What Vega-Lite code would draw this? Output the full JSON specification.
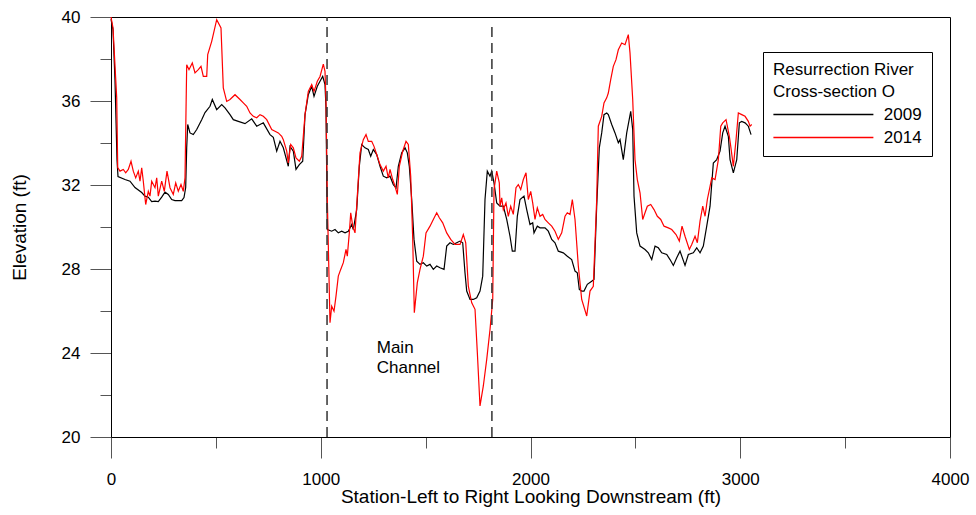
{
  "$schema": "https://vega.github.io/schema/vega-lite/v6.json",
  "width": 839,
  "height": 420,
  "autosize": {"type": "none"},
  "padding": {"left": 111, "top": 17, "right": 26, "bottom": 78},
  "background": "white",
  "config": {
    "font": "Liberation Sans",
    "view": {"stroke": "black", "strokeWidth": 1},
    "axis": {"grid": false, "domainColor": "black", "domainWidth": 1, "tickColor": "#555", "tickWidth": 1, "labelFontSize": 17, "labelColor": "black", "titleFontSize": 19, "titleFontWeight": "normal", "titleColor": "black", "labelOverlap": false, "labelFlush": false}
  },
  "layer": [
    {
      "data": {"values": [
        {"station":0,"elev":39.9,"year":"2009"},{"station":9.5,"elev":39.4,"year":"2009"},{"station":19,"elev":37.0,"year":"2009"},{"station":28.6,"elev":33.2,"year":"2009"},{"station":33.4,"elev":32.4,"year":"2009"},{"station":66.7,"elev":32.26,"year":"2009"},{"station":90.6,"elev":32.18,"year":"2009"},{"station":114.4,"elev":31.88,"year":"2009"},{"station":146.4,"elev":31.64,"year":"2009"},{"station":162.1,"elev":31.47,"year":"2009"},{"station":177.8,"elev":31.42,"year":"2009"},{"station":194,"elev":31.21,"year":"2009"},{"station":209.8,"elev":31.23,"year":"2009"},{"station":225.5,"elev":31.21,"year":"2009"},{"station":241.7,"elev":31.42,"year":"2009"},{"station":257.5,"elev":31.66,"year":"2009"},{"station":273.2,"elev":31.55,"year":"2009"},{"station":289.4,"elev":31.31,"year":"2009"},{"station":305.1,"elev":31.26,"year":"2009"},{"station":320.9,"elev":31.26,"year":"2009"},{"station":337.1,"elev":31.26,"year":"2009"},{"station":348,"elev":31.4,"year":"2009"},{"station":356.1,"elev":31.88,"year":"2009"},{"station":360.9,"elev":33.78,"year":"2009"},{"station":365.7,"elev":34.88,"year":"2009"},{"station":376.6,"elev":34.48,"year":"2009"},{"station":392.4,"elev":34.4,"year":"2009"},{"station":408.6,"elev":34.64,"year":"2009"},{"station":432.4,"elev":35.11,"year":"2009"},{"station":448.2,"elev":35.45,"year":"2009"},{"station":472,"elev":35.75,"year":"2009"},{"station":483,"elev":36.07,"year":"2009"},{"station":503.9,"elev":35.59,"year":"2009"},{"station":527.8,"elev":35.83,"year":"2009"},{"station":543.5,"elev":35.67,"year":"2009"},{"station":567.4,"elev":35.35,"year":"2009"},{"station":583.1,"elev":35.11,"year":"2009"},{"station":606.9,"elev":35.03,"year":"2009"},{"station":638.9,"elev":34.92,"year":"2009"},{"station":670.8,"elev":35.15,"year":"2009"},{"station":694.7,"elev":34.8,"year":"2009"},{"station":726.1,"elev":34.96,"year":"2009"},{"station":758.1,"elev":34.4,"year":"2009"},{"station":773.8,"elev":34.27,"year":"2009"},{"station":790,"elev":33.61,"year":"2009"},{"station":805.7,"elev":34.08,"year":"2009"},{"station":821.5,"elev":33.77,"year":"2009"},{"station":845.3,"elev":32.89,"year":"2009"},{"station":853.4,"elev":33.84,"year":"2009"},{"station":869.2,"elev":33.61,"year":"2009"},{"station":882,"elev":32.74,"year":"2009"},{"station":897.8,"elev":32.97,"year":"2009"},{"station":914,"elev":33.13,"year":"2009"},{"station":925,"elev":35.35,"year":"2009"},{"station":940.7,"elev":36.3,"year":"2009"},{"station":956.9,"elev":36.7,"year":"2009"},{"station":967.9,"elev":36.22,"year":"2009"},{"station":983.6,"elev":36.7,"year":"2009"},{"station":996.5,"elev":36.94,"year":"2009"},{"station":1009.3,"elev":37.17,"year":"2009"},{"station":1020.3,"elev":36.78,"year":"2009"},{"station":1025,"elev":35.67,"year":"2009"},{"station":1031.2,"elev":29.88,"year":"2009"},{"station":1052.2,"elev":29.8,"year":"2009"},{"station":1068,"elev":29.88,"year":"2009"},{"station":1083.7,"elev":29.72,"year":"2009"},{"station":1099.9,"elev":29.8,"year":"2009"},{"station":1115.7,"elev":29.72,"year":"2009"},{"station":1131.4,"elev":29.8,"year":"2009"},{"station":1147.6,"elev":30.12,"year":"2009"},{"station":1155.2,"elev":29.88,"year":"2009"},{"station":1171.4,"elev":30.83,"year":"2009"},{"station":1183.8,"elev":32.89,"year":"2009"},{"station":1195.3,"elev":33.93,"year":"2009"},{"station":1211,"elev":33.77,"year":"2009"},{"station":1226.7,"elev":33.69,"year":"2009"},{"station":1238.2,"elev":33.37,"year":"2009"},{"station":1250.6,"elev":33.69,"year":"2009"},{"station":1266.8,"elev":33.45,"year":"2009"},{"station":1282.6,"elev":32.89,"year":"2009"},{"station":1298.3,"elev":32.42,"year":"2009"},{"station":1314.5,"elev":32.34,"year":"2009"},{"station":1330.3,"elev":32.42,"year":"2009"},{"station":1346,"elev":32.02,"year":"2009"},{"station":1358.9,"elev":31.87,"year":"2009"},{"station":1369.8,"elev":32.89,"year":"2009"},{"station":1386,"elev":33.53,"year":"2009"},{"station":1401.8,"elev":33.77,"year":"2009"},{"station":1412.7,"elev":33.53,"year":"2009"},{"station":1422.2,"elev":32.89,"year":"2009"},{"station":1433.7,"elev":31.31,"year":"2009"},{"station":1444.6,"elev":29.41,"year":"2009"},{"station":1457.5,"elev":28.37,"year":"2009"},{"station":1473.2,"elev":28.22,"year":"2009"},{"station":1489,"elev":28.3,"year":"2009"},{"station":1505.2,"elev":28.14,"year":"2009"},{"station":1520.9,"elev":28.22,"year":"2009"},{"station":1536.7,"elev":27.98,"year":"2009"},{"station":1552.9,"elev":28.14,"year":"2009"},{"station":1568.6,"elev":28.06,"year":"2009"},{"station":1587.7,"elev":27.98,"year":"2009"},{"station":1600.5,"elev":29.09,"year":"2009"},{"station":1616.3,"elev":29.25,"year":"2009"},{"station":1632,"elev":29.17,"year":"2009"},{"station":1648.2,"elev":29.25,"year":"2009"},{"station":1664,"elev":29.33,"year":"2009"},{"station":1676.8,"elev":29.25,"year":"2009"},{"station":1687.7,"elev":27.82,"year":"2009"},{"station":1695.9,"elev":26.95,"year":"2009"},{"station":1711.6,"elev":26.55,"year":"2009"},{"station":1727.4,"elev":26.55,"year":"2009"},{"station":1743.6,"elev":26.63,"year":"2009"},{"station":1759.3,"elev":26.95,"year":"2009"},{"station":1772.2,"elev":27.66,"year":"2009"},{"station":1783.1,"elev":31.31,"year":"2009"},{"station":1794.1,"elev":32.66,"year":"2009"},{"station":1807,"elev":32.42,"year":"2009"},{"station":1815.1,"elev":32.66,"year":"2009"},{"station":1826,"elev":32.1,"year":"2009"},{"station":1838.9,"elev":31.15,"year":"2009"},{"station":1854.6,"elev":30.99,"year":"2009"},{"station":1870.4,"elev":30.99,"year":"2009"},{"station":1886.6,"elev":30.36,"year":"2009"},{"station":1902.3,"elev":29.56,"year":"2009"},{"station":1913.3,"elev":28.85,"year":"2009"},{"station":1926.2,"elev":28.85,"year":"2009"},{"station":1937.1,"elev":30.51,"year":"2009"},{"station":1950,"elev":31.31,"year":"2009"},{"station":1969,"elev":31.47,"year":"2009"},{"station":1981.9,"elev":30.83,"year":"2009"},{"station":1997.6,"elev":30.12,"year":"2009"},{"station":2010.5,"elev":30.2,"year":"2009"},{"station":2016.7,"elev":29.72,"year":"2009"},{"station":2032.5,"elev":30.04,"year":"2009"},{"station":2045.3,"elev":29.96,"year":"2009"},{"station":2069.2,"elev":29.96,"year":"2009"},{"station":2084.9,"elev":29.8,"year":"2009"},{"station":2101.1,"elev":29.41,"year":"2009"},{"station":2116.8,"elev":29.25,"year":"2009"},{"station":2132.6,"elev":28.85,"year":"2009"},{"station":2156.4,"elev":28.77,"year":"2009"},{"station":2175.5,"elev":28.61,"year":"2009"},{"station":2196.4,"elev":28.45,"year":"2009"},{"station":2212.2,"elev":27.9,"year":"2009"},{"station":2223.1,"elev":27.82,"year":"2009"},{"station":2232.7,"elev":27.03,"year":"2009"},{"station":2244.1,"elev":26.95,"year":"2009"},{"station":2255.1,"elev":26.95,"year":"2009"},{"station":2270.9,"elev":27.27,"year":"2009"},{"station":2291.8,"elev":27.42,"year":"2009"},{"station":2302.7,"elev":27.5,"year":"2009"},{"station":2315.6,"elev":30.99,"year":"2009"},{"station":2328,"elev":33.77,"year":"2009"},{"station":2339.5,"elev":34.48,"year":"2009"},{"station":2350.4,"elev":35.35,"year":"2009"},{"station":2363.3,"elev":35.43,"year":"2009"},{"station":2371,"elev":35.35,"year":"2009"},{"station":2387.2,"elev":34.88,"year":"2009"},{"station":2402.9,"elev":34.48,"year":"2009"},{"station":2418.7,"elev":34.01,"year":"2009"},{"station":2426.8,"elev":34.16,"year":"2009"},{"station":2442.5,"elev":33.21,"year":"2009"},{"station":2458.7,"elev":34.48,"year":"2009"},{"station":2477.8,"elev":35.51,"year":"2009"},{"station":2487.3,"elev":34.64,"year":"2009"},{"station":2493.5,"elev":31.47,"year":"2009"},{"station":2506.4,"elev":29.72,"year":"2009"},{"station":2522.2,"elev":29.09,"year":"2009"},{"station":2546,"elev":28.93,"year":"2009"},{"station":2561.7,"elev":28.77,"year":"2009"},{"station":2578,"elev":28.45,"year":"2009"},{"station":2593.7,"elev":29.09,"year":"2009"},{"station":2609.4,"elev":29.01,"year":"2009"},{"station":2625.6,"elev":28.77,"year":"2009"},{"station":2649.5,"elev":28.69,"year":"2009"},{"station":2665.2,"elev":28.45,"year":"2009"},{"station":2681,"elev":28.17,"year":"2009"},{"station":2697.2,"elev":28.54,"year":"2009"},{"station":2712.9,"elev":28.85,"year":"2009"},{"station":2736.7,"elev":28.17,"year":"2009"},{"station":2752.5,"elev":28.69,"year":"2009"},{"station":2776.3,"elev":28.77,"year":"2009"},{"station":2792.5,"elev":29.01,"year":"2009"},{"station":2808.3,"elev":28.77,"year":"2009"},{"station":2824,"elev":29.09,"year":"2009"},{"station":2840.2,"elev":30.04,"year":"2009"},{"station":2856,"elev":30.99,"year":"2009"},{"station":2871.7,"elev":33.05,"year":"2009"},{"station":2887.9,"elev":33.21,"year":"2009"},{"station":2903.6,"elev":33.61,"year":"2009"},{"station":2916.5,"elev":34.48,"year":"2009"},{"station":2927.5,"elev":34.8,"year":"2009"},{"station":2943.2,"elev":34.32,"year":"2009"},{"station":2951.3,"elev":33.21,"year":"2009"},{"station":2967.1,"elev":32.58,"year":"2009"},{"station":2983.3,"elev":33.21,"year":"2009"},{"station":2995.7,"elev":34.96,"year":"2009"},{"station":3007.1,"elev":35.03,"year":"2009"},{"station":3022.9,"elev":34.96,"year":"2009"},{"station":3038.6,"elev":34.8,"year":"2009"},{"station":3051.5,"elev":34.4,"year":"2009"},
        {"station":0,"elev":40,"year":"2014"},{"station":9.5,"elev":39.48,"year":"2014"},{"station":27.2,"elev":36.16,"year":"2014"},{"station":32,"elev":32.83,"year":"2014"},{"station":42.9,"elev":32.66,"year":"2014"},{"station":58.6,"elev":32.74,"year":"2014"},{"station":70.1,"elev":32.58,"year":"2014"},{"station":82.5,"elev":32.74,"year":"2014"},{"station":95.4,"elev":33.13,"year":"2014"},{"station":106.3,"elev":32.66,"year":"2014"},{"station":117.8,"elev":32.34,"year":"2014"},{"station":130.2,"elev":32.66,"year":"2014"},{"station":138.3,"elev":32.18,"year":"2014"},{"station":146.4,"elev":32.82,"year":"2014"},{"station":154,"elev":32.18,"year":"2014"},{"station":165.4,"elev":31.07,"year":"2014"},{"station":177.8,"elev":31.7,"year":"2014"},{"station":185.9,"elev":31.47,"year":"2014"},{"station":194,"elev":32.18,"year":"2014"},{"station":209.8,"elev":31.87,"year":"2014"},{"station":217.9,"elev":32.34,"year":"2014"},{"station":225.5,"elev":31.47,"year":"2014"},{"station":241.7,"elev":32.18,"year":"2014"},{"station":254.1,"elev":31.7,"year":"2014"},{"station":267,"elev":32.66,"year":"2014"},{"station":281.3,"elev":31.87,"year":"2014"},{"station":297,"elev":31.55,"year":"2014"},{"station":308.5,"elev":32.1,"year":"2014"},{"station":320.9,"elev":31.7,"year":"2014"},{"station":333.7,"elev":32.02,"year":"2014"},{"station":344.7,"elev":31.7,"year":"2014"},{"station":352.8,"elev":32.34,"year":"2014"},{"station":360.9,"elev":37.73,"year":"2014"},{"station":371.9,"elev":37.49,"year":"2014"},{"station":387.6,"elev":37.81,"year":"2014"},{"station":400.5,"elev":37.34,"year":"2014"},{"station":416.2,"elev":37.49,"year":"2014"},{"station":429.1,"elev":37.65,"year":"2014"},{"station":440.1,"elev":37.17,"year":"2014"},{"station":456.3,"elev":37.17,"year":"2014"},{"station":461.1,"elev":38.21,"year":"2014"},{"station":480.1,"elev":38.84,"year":"2014"},{"station":503.9,"elev":39.87,"year":"2014"},{"station":524.4,"elev":39.48,"year":"2014"},{"station":535.4,"elev":36.62,"year":"2014"},{"station":551.6,"elev":35.98,"year":"2014"},{"station":567.4,"elev":36.07,"year":"2014"},{"station":591.2,"elev":36.3,"year":"2014"},{"station":615,"elev":36.07,"year":"2014"},{"station":630.8,"elev":35.91,"year":"2014"},{"station":647,"elev":35.75,"year":"2014"},{"station":662.7,"elev":35.43,"year":"2014"},{"station":678.5,"elev":35.27,"year":"2014"},{"station":694.7,"elev":35.2,"year":"2014"},{"station":710.4,"elev":35.35,"year":"2014"},{"station":726.1,"elev":35.27,"year":"2014"},{"station":742.4,"elev":35.11,"year":"2014"},{"station":766.2,"elev":34.64,"year":"2014"},{"station":781.9,"elev":34.56,"year":"2014"},{"station":797.7,"elev":34.48,"year":"2014"},{"station":813.9,"elev":34.32,"year":"2014"},{"station":821.5,"elev":34.16,"year":"2014"},{"station":837.7,"elev":33.61,"year":"2014"},{"station":845.3,"elev":33.05,"year":"2014"},{"station":856.8,"elev":33.93,"year":"2014"},{"station":869.2,"elev":33.77,"year":"2014"},{"station":882,"elev":33.29,"year":"2014"},{"station":897.8,"elev":33.13,"year":"2014"},{"station":909.2,"elev":33.37,"year":"2014"},{"station":925,"elev":35.35,"year":"2014"},{"station":940.7,"elev":36.46,"year":"2014"},{"station":956.9,"elev":36.78,"year":"2014"},{"station":967.9,"elev":36.46,"year":"2014"},{"station":983.6,"elev":36.94,"year":"2014"},{"station":996.5,"elev":37.17,"year":"2014"},{"station":1012.2,"elev":37.76,"year":"2014"},{"station":1020.3,"elev":37.41,"year":"2014"},{"station":1025,"elev":35.99,"year":"2014"},{"station":1031.2,"elev":31.39,"year":"2014"},{"station":1044.1,"elev":25.44,"year":"2014"},{"station":1052.2,"elev":26.23,"year":"2014"},{"station":1063.2,"elev":25.99,"year":"2014"},{"station":1072.7,"elev":26.71,"year":"2014"},{"station":1083.7,"elev":27.66,"year":"2014"},{"station":1095.2,"elev":27.98,"year":"2014"},{"station":1107.6,"elev":28.3,"year":"2014"},{"station":1120.4,"elev":28.93,"year":"2014"},{"station":1126.6,"elev":28.61,"year":"2014"},{"station":1136.2,"elev":29.72,"year":"2014"},{"station":1142.9,"elev":30.68,"year":"2014"},{"station":1152.4,"elev":30.04,"year":"2014"},{"station":1163.3,"elev":29.72,"year":"2014"},{"station":1174.3,"elev":31.47,"year":"2014"},{"station":1187.1,"elev":33.53,"year":"2014"},{"station":1202.9,"elev":34.16,"year":"2014"},{"station":1215.8,"elev":34.4,"year":"2014"},{"station":1226.7,"elev":34.08,"year":"2014"},{"station":1242.9,"elev":34.08,"year":"2014"},{"station":1253.9,"elev":33.84,"year":"2014"},{"station":1266.8,"elev":33.45,"year":"2014"},{"station":1282.6,"elev":32.97,"year":"2014"},{"station":1298.3,"elev":32.66,"year":"2014"},{"station":1311.2,"elev":32.89,"year":"2014"},{"station":1322.1,"elev":32.34,"year":"2014"},{"station":1330.3,"elev":32.74,"year":"2014"},{"station":1343.1,"elev":32.26,"year":"2014"},{"station":1354.1,"elev":31.94,"year":"2014"},{"station":1365.1,"elev":31.55,"year":"2014"},{"station":1374.6,"elev":32.89,"year":"2014"},{"station":1390.8,"elev":33.61,"year":"2014"},{"station":1406.5,"elev":34.08,"year":"2014"},{"station":1417.5,"elev":33.93,"year":"2014"},{"station":1428.9,"elev":32.42,"year":"2014"},{"station":1438.5,"elev":29.41,"year":"2014"},{"station":1446.1,"elev":25.92,"year":"2014"},{"station":1460.4,"elev":27.35,"year":"2014"},{"station":1473.2,"elev":27.98,"year":"2014"},{"station":1489,"elev":28.61,"year":"2014"},{"station":1501.8,"elev":29.72,"year":"2014"},{"station":1520.9,"elev":30.04,"year":"2014"},{"station":1536.7,"elev":30.36,"year":"2014"},{"station":1552.9,"elev":30.68,"year":"2014"},{"station":1565.3,"elev":30.44,"year":"2014"},{"station":1581.5,"elev":30.2,"year":"2014"},{"station":1600.5,"elev":29.72,"year":"2014"},{"station":1619.6,"elev":29.41,"year":"2014"},{"station":1640.1,"elev":29.17,"year":"2014"},{"station":1664,"elev":29.17,"year":"2014"},{"station":1679.7,"elev":29.64,"year":"2014"},{"station":1691.2,"elev":29.25,"year":"2014"},{"station":1703.6,"elev":27.18,"year":"2014"},{"station":1719.8,"elev":26.39,"year":"2014"},{"station":1735.5,"elev":26.08,"year":"2014"},{"station":1746.5,"elev":24.02,"year":"2014"},{"station":1759.3,"elev":21.48,"year":"2014"},{"station":1775.1,"elev":22.43,"year":"2014"},{"station":1791.3,"elev":23.7,"year":"2014"},{"station":1807,"elev":25.12,"year":"2014"},{"station":1819.9,"elev":26.55,"year":"2014"},{"station":1826,"elev":31.78,"year":"2014"},{"station":1838.9,"elev":32.66,"year":"2014"},{"station":1851.3,"elev":32.1,"year":"2014"},{"station":1854.6,"elev":30.99,"year":"2014"},{"station":1862.7,"elev":31.39,"year":"2014"},{"station":1870.4,"elev":30.83,"year":"2014"},{"station":1883.2,"elev":31.15,"year":"2014"},{"station":1894.2,"elev":30.51,"year":"2014"},{"station":1905.6,"elev":30.99,"year":"2014"},{"station":1918.1,"elev":30.6,"year":"2014"},{"station":1930.9,"elev":31.87,"year":"2014"},{"station":1941.9,"elev":32.02,"year":"2014"},{"station":1953.4,"elev":31.78,"year":"2014"},{"station":1965.8,"elev":32.26,"year":"2014"},{"station":1978.6,"elev":32.58,"year":"2014"},{"station":1989.6,"elev":31.31,"year":"2014"},{"station":2001,"elev":31.7,"year":"2014"},{"station":2010.5,"elev":31.15,"year":"2014"},{"station":2021.5,"elev":30.36,"year":"2014"},{"station":2032.5,"elev":30.91,"year":"2014"},{"station":2045.3,"elev":30.51,"year":"2014"},{"station":2058.2,"elev":30.6,"year":"2014"},{"station":2069.2,"elev":30.36,"year":"2014"},{"station":2084.9,"elev":30.2,"year":"2014"},{"station":2101.1,"elev":30.04,"year":"2014"},{"station":2116.8,"elev":29.8,"year":"2014"},{"station":2132.6,"elev":29.41,"year":"2014"},{"station":2148.8,"elev":29.72,"year":"2014"},{"station":2164.5,"elev":30.51,"year":"2014"},{"station":2175.5,"elev":30.68,"year":"2014"},{"station":2188.4,"elev":30.6,"year":"2014"},{"station":2199.4,"elev":31.31,"year":"2014"},{"station":2212.2,"elev":30.36,"year":"2014"},{"station":2228,"elev":28.14,"year":"2014"},{"station":2244.1,"elev":26.55,"year":"2014"},{"station":2268,"elev":25.76,"year":"2014"},{"station":2283.7,"elev":26.95,"year":"2014"},{"station":2299.5,"elev":27.18,"year":"2014"},{"station":2315.6,"elev":31.31,"year":"2014"},{"station":2323.3,"elev":34.8,"year":"2014"},{"station":2339.5,"elev":35.27,"year":"2014"},{"station":2350.4,"elev":35.91,"year":"2014"},{"station":2363.3,"elev":36.15,"year":"2014"},{"station":2371,"elev":36.38,"year":"2014"},{"station":2382.4,"elev":37.02,"year":"2014"},{"station":2394.8,"elev":37.65,"year":"2014"},{"station":2407.6,"elev":37.97,"year":"2014"},{"station":2418.7,"elev":38.44,"year":"2014"},{"station":2434.8,"elev":38.76,"year":"2014"},{"station":2450.6,"elev":38.68,"year":"2014"},{"station":2466.4,"elev":39.16,"year":"2014"},{"station":2474.4,"elev":38.29,"year":"2014"},{"station":2487.3,"elev":36.07,"year":"2014"},{"station":2498.2,"elev":33.21,"year":"2014"},{"station":2509.2,"elev":32.26,"year":"2014"},{"station":2522.2,"elev":31.63,"year":"2014"},{"station":2535,"elev":30.36,"year":"2014"},{"station":2546,"elev":30.68,"year":"2014"},{"station":2557,"elev":30.99,"year":"2014"},{"station":2573.2,"elev":31.07,"year":"2014"},{"station":2588.9,"elev":30.83,"year":"2014"},{"station":2604.7,"elev":30.51,"year":"2014"},{"station":2620.9,"elev":30.36,"year":"2014"},{"station":2636.6,"elev":30.04,"year":"2014"},{"station":2657.1,"elev":29.96,"year":"2014"},{"station":2673.3,"elev":29.88,"year":"2014"},{"station":2693.8,"elev":29.64,"year":"2014"},{"station":2709.5,"elev":29.33,"year":"2014"},{"station":2722.4,"elev":30.04,"year":"2014"},{"station":2736.7,"elev":29.56,"year":"2014"},{"station":2757.2,"elev":28.93,"year":"2014"},{"station":2768.7,"elev":29.17,"year":"2014"},{"station":2784.5,"elev":29.56,"year":"2014"},{"station":2795.4,"elev":29.25,"year":"2014"},{"station":2808.3,"elev":30.28,"year":"2014"},{"station":2821.2,"elev":30.99,"year":"2014"},{"station":2832.2,"elev":30.51,"year":"2014"},{"station":2843.1,"elev":31.31,"year":"2014"},{"station":2856,"elev":31.94,"year":"2014"},{"station":2864.1,"elev":32.34,"year":"2014"},{"station":2879.9,"elev":32.26,"year":"2014"},{"station":2895.6,"elev":33.21,"year":"2014"},{"station":2907.1,"elev":34.8,"year":"2014"},{"station":2916.5,"elev":34.96,"year":"2014"},{"station":2932.3,"elev":35.11,"year":"2014"},{"station":2948,"elev":34.32,"year":"2014"},{"station":2954.7,"elev":33.84,"year":"2014"},{"station":2967.1,"elev":32.89,"year":"2014"},{"station":2980,"elev":34.16,"year":"2014"},{"station":2990.9,"elev":35.43,"year":"2014"},{"station":3007.1,"elev":35.35,"year":"2014"},{"station":3022.9,"elev":35.27,"year":"2014"},{"station":3038.6,"elev":35.03,"year":"2014"},{"station":3046.6,"elev":34.8,"year":"2014"},{"station":3054.7,"elev":34.88,"year":"2014"}
      ]},
      "mark": {"type": "line", "strokeWidth": 1.2, "interpolate": "linear"},
      "encoding": {
        "x": {"field": "station", "type": "quantitative",
          "scale": {"domain": [0, 4000], "nice": false, "zero": false},
          "axis": {"values": [0,500,1000,1500,2000,2500,3000,3500,4000], "format": "d",
            "labelExpr": "datum.value % 1000 === 0 ? datum.label : ''",
            "tickSize": {"condition": {"test": "datum.value % 1000 === 0", "value": 21}, "value": 11},
            "labelPadding": 13, "title": "Station-Left to Right Looking Downstream  (ft)", "titlePadding": 0}},
        "y": {"field": "elev", "type": "quantitative",
          "scale": {"domain": [20, 40], "nice": false, "zero": false},
          "axis": {"values": [20,22,24,26,28,30,32,34,36,38,40], "format": "d",
            "labelExpr": "datum.value % 4 === 0 ? datum.label : ''",
            "tickSize": {"condition": {"test": "datum.value % 4 === 0", "value": 21}, "value": 11},
            "labelPadding": 10, "title": "Elevation (ft)", "titlePadding": 32}},
        "color": {"field": "year", "type": "nominal",
          "scale": {"domain": ["2009", "2014"], "range": ["black", "red"]},
          "legend": {"title": ["Resurrection River", "Cross-section O"], "orient": "none", "legendX": 652, "legendY": 35,
            "strokeColor": "black", "fillColor": "white", "padding": 10,
            "symbolType": "M-5,0H5", "symbolSize": 400, "symbolOffset": 39.4, "symbolStrokeWidth": 1.5,
            "labelFontSize": 17, "titleFontSize": 17, "titleFontWeight": "normal", "titleLineHeight": 21.5, "titlePadding": 3,
            "labelOffset": 49.4, "rowPadding": 4, "labelColor": "black", "titleColor": "black"}}
      }
    },
    {
      "data": {"values": [{"station": 1030, "lo": 20, "hi": 40}, {"station": 1816, "lo": 20, "hi": 39.6}]},
      "mark": {"type": "rule", "strokeDash": [10, 6], "color": "#333", "strokeWidth": 1.5},
      "encoding": {
        "x": {"field": "station", "type": "quantitative"},
        "y": {"field": "lo", "type": "quantitative"},
        "y2": {"field": "hi"}
      }
    },
    {
      "data": {"values": [{"station": 1267, "elev": 24.0, "label": "Main\nChannel"}]},
      "mark": {"type": "text", "align": "left", "baseline": "alphabetic", "fontSize": 17, "lineHeight": 19.5, "lineBreak": "\n", "color": "black"},
      "encoding": {
        "x": {"field": "station", "type": "quantitative"},
        "y": {"field": "elev", "type": "quantitative"},
        "text": {"field": "label"}
      }
    }
  ]
}
